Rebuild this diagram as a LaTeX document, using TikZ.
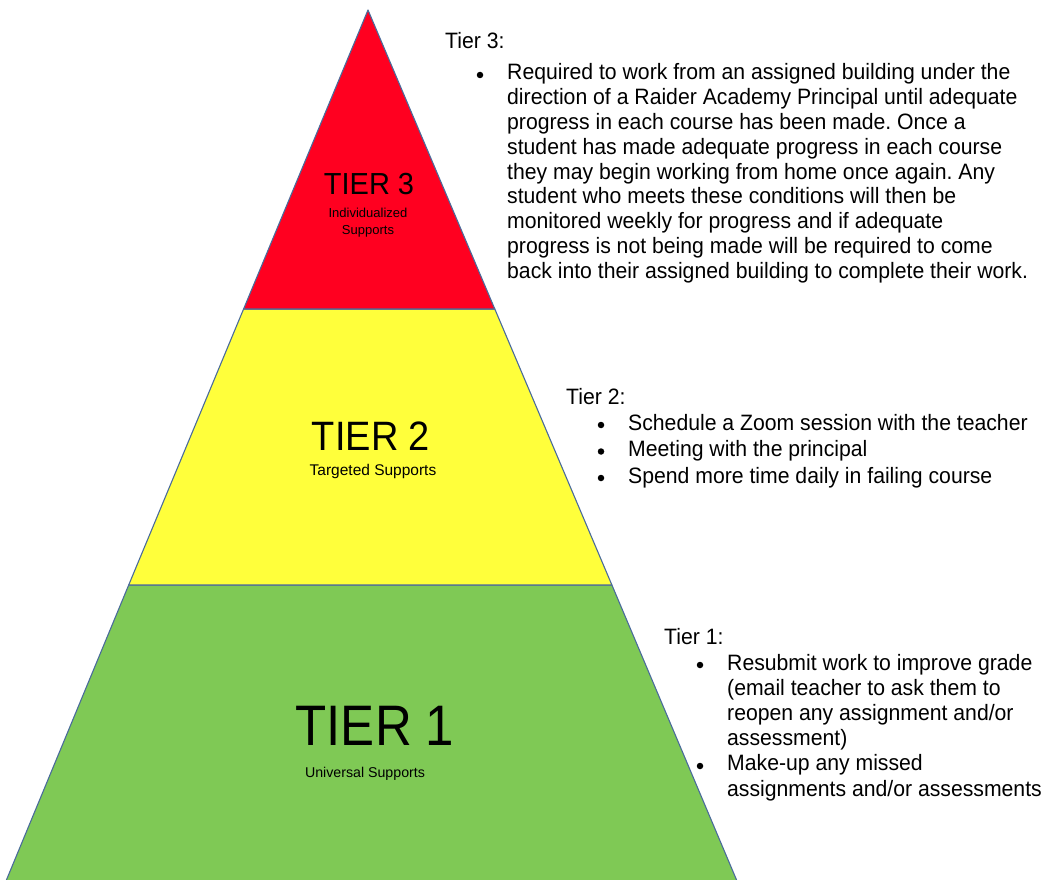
\documentclass[tikz,border=0pt]{standalone}
\usepackage{fontspec}
\setmainfont{Liberation Sans}
\frenchspacing
\definecolor{tred}{HTML}{FF0020}
\definecolor{tyellow}{HTML}{FFFF3B}
\definecolor{tgreen}{HTML}{7FC955}
\definecolor{edge}{HTML}{4A6B9B}
\begin{document}
\begin{tikzpicture}[x=1pt,y=-1pt,
  tier/.style={draw=edge, line width=1.1pt, line join=round},
  lab/.style={anchor=base, inner sep=0pt},
  body/.style={anchor=base west, inner sep=0pt, font=\fontsize{21.2}{25}\selectfont, yscale=1.05},
  dot/.style={circle, fill=black, inner sep=0pt, minimum size=6.5pt}]
\useasboundingbox (0,0) rectangle (1045,880);
% pyramid
\filldraw[tier, fill=tgreen] (128.7,585) -- (611.9,585) -- (737,881) -- (6,881) -- cycle;
\filldraw[tier, fill=tyellow] (243.6,309) -- (494.8,309) -- (611.9,585) -- (128.7,585) -- cycle;
\filldraw[tier, fill=tred] (368,10) -- (494.8,309) -- (243.6,309) -- cycle;
% labels in pyramid
\node[lab, font=\fontsize{29}{29}\selectfont, yscale=1.05] (t3) at (369,194) {TIER 3};
\node[lab, font=\fontsize{13}{13}\selectfont] (t3a) at (368,218) {Individualized};
\node[lab, font=\fontsize{13}{13}\selectfont] (t3b) at (368,234) {Supports};
\node[lab, font=\fontsize{38}{38}\selectfont, yscale=1.08] (t2) at (371,450) {TIER 2};
\node[lab, font=\fontsize{15.5}{15.5}\selectfont] (t2a) at (373,475) {Targeted Supports};
\node[lab, font=\fontsize{51}{51}\selectfont, yscale=1.12] (t1) at (375,745) {TIER 1};
\node[lab, font=\fontsize{14.2}{14.2}\selectfont] (t1a) at (365,777) {Universal Supports};
% Tier 3 text
\node[body] (h3) at (445,49) {Tier 3:};
\node[dot] (b3) at (480,75) {};
\foreach \t [count=\i from 0] in {
  {Required to work from an assigned building under the},
  {direction of a Raider Academy Principal until adequate},
  {progress in each course has been made. Once a},
  {student has made adequate progress in each course},
  {they may begin working from home once again. Any},
  {student who meets these conditions will then be},
  {monitored weekly for progress and if adequate},
  {progress is not being made will be required to come},
  {back into their assigned building to complete their work.}}
  \node[body] (l3\i) at (507,80+24.75*\i) {\t};
% Tier 2 text
\node[body] (h2) at (566,404) {Tier 2:};
\foreach \t [count=\i from 0] in {
  {Schedule a Zoom session with the teacher},
  {Meeting with the principal},
  {Spend more time daily in failing course}} {
  \node[body] (l2\i) at (628,430+26.5*\i) {\t};
  \node[dot] (b2\i) at (601,425+26.5*\i) {};
}
% Tier 1 text
\node[body] (h1) at (664,644) {Tier 1:};
\foreach \t [count=\i from 0] in {
  {Resubmit work to improve grade},
  {(email teacher to ask them to},
  {reopen any assignment and/or},
  {assessment)},
  {Make-up any missed},
  {assignments and/or assessments}}
  \node[body] (l1\i) at (727,670+25.2*\i) {\t};
\node[dot] (b10) at (700,665) {};
\node[dot] (b11) at (700,766) {};
\end{tikzpicture}
\end{document}
